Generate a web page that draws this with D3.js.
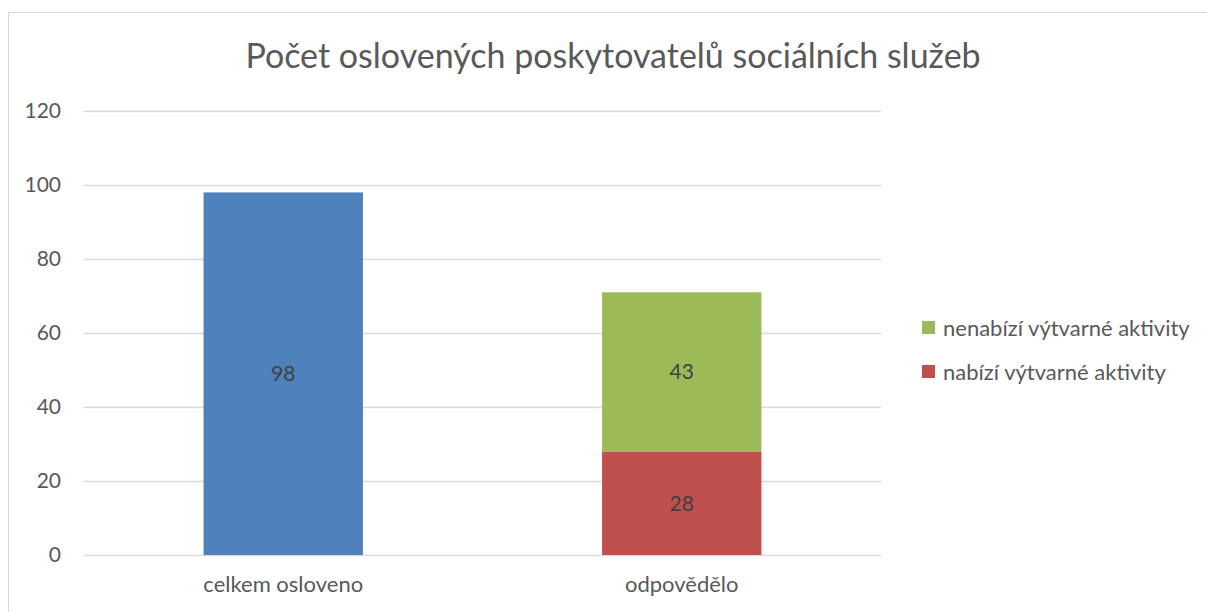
<!DOCTYPE html>
<html>
<head>
<meta charset="utf-8">
<script src="https://cdn.jsdelivr.net/npm/d3@7"></script>
<style>
  body { margin: 0; background: #fff; }
  text { font-family: Lato, "Open Sans", sans-serif; }
</style>
</head>
<body>
<svg width="1207" height="612"></svg>
<script>
const categories = ['celkem osloveno', 'odpovědělo']
const seriesNames = ['celkem osloveno', 'nabízí výtvarné aktivity', 'nenabízí výtvarné aktivity']
const total = [98, 0]
const offers = [0, 28]
const notOffers = [0, 43]
const yTicks = [0, 20, 40, 60, 80, 100, 120]
const colors = ['#4f81bd', '#c0504d', '#9bbb59']

const svg = d3.select('svg')

// chart border
svg.append('rect')
  .attr('x', 8.5).attr('y', 12.5)
  .attr('width', 1210).attr('height', 620)
  .attr('fill', 'none').attr('stroke', '#d9d9d9')

const margin = { left: 84, right: 881, top: 111, bottom: 555 }

const x = d3.scaleBand().domain(categories)
  .range([margin.left, margin.right])
  .paddingInner(0.6).paddingOuter(0.3)
const y = d3.scaleLinear().domain([0, 120]).range([margin.bottom, margin.top])

// title
svg.append('text')
  .attr('x', 613).attr('y', 68)
  .attr('text-anchor', 'middle')
  .attr('font-size', 34)
  .attr('fill', '#595959')
  .text('Počet oslovených poskytovatelů sociálních služeb')

// gridlines + y labels
const yAxis = d3.axisLeft(y).tickValues(yTicks)
  .tickSize(-(margin.right - margin.left)).tickPadding(23)
svg.append('g')
  .attr('transform', `translate(${margin.left},0)`)
  .call(yAxis)
  .call(g => g.select('.domain').remove())
  .call(g => g.selectAll('.tick line').attr('stroke', '#d9d9d9').attr('stroke-width', 1.5))
  .call(g => g.selectAll('.tick text')
    .attr('fill', '#595959').attr('font-size', 21)
    .attr('font-family', 'Lato, sans-serif'))

// stacked data
const rows = categories.map((c, i) => ({ cat: c, total: total[i], offers: offers[i], notOffers: notOffers[i] }))
const stack = d3.stack().keys(['total', 'offers', 'notOffers'])(rows)

const layers = svg.append('g').selectAll('g')
  .data(stack).join('g')
  .attr('fill', (d, i) => colors[i])

layers.selectAll('rect')
  .data(d => d.filter(p => p[1] - p[0] > 0))
  .join('rect')
  .attr('x', d => x(d.data.cat))
  .attr('width', x.bandwidth())
  .attr('y', d => y(d[1]))
  .attr('height', d => y(d[0]) - y(d[1]))

// data labels
layers.selectAll('text')
  .data(d => d.filter(p => p[1] - p[0] > 0))
  .join('text')
  .attr('x', d => x(d.data.cat) + x.bandwidth() / 2)
  .attr('y', d => (y(d[0]) + y(d[1])) / 2)
  .attr('dy', '0.35em')
  .attr('text-anchor', 'middle')
  .attr('font-size', 21)
  .attr('fill', '#404040')
  .text(d => d[1] - d[0])

// x axis labels
const xAxis = d3.axisBottom(x).tickSize(0).tickPadding(21)
svg.append('g')
  .attr('transform', `translate(0,${margin.bottom})`)
  .call(xAxis)
  .call(g => g.select('.domain').remove())
  .call(g => g.selectAll('.tick text')
    .attr('fill', '#595959').attr('font-size', 22)
    .attr('font-family', 'Lato, sans-serif'))

// legend
const legendItems = [
  { name: seriesNames[2], color: colors[2] },
  { name: seriesNames[1], color: colors[1] }
]
const legend = svg.append('g').selectAll('g')
  .data(legendItems).join('g')
  .attr('transform', (d, i) => `translate(922,${321 + i * 44})`)
legend.append('rect')
  .attr('width', 13).attr('height', 13)
  .attr('fill', d => d.color)
legend.append('text')
  .attr('x', 21).attr('y', 7)
  .attr('dy', '0.35em')
  .attr('font-size', 22)
  .attr('fill', '#595959')
  .text(d => d.name)
</script>
</body>
</html>
